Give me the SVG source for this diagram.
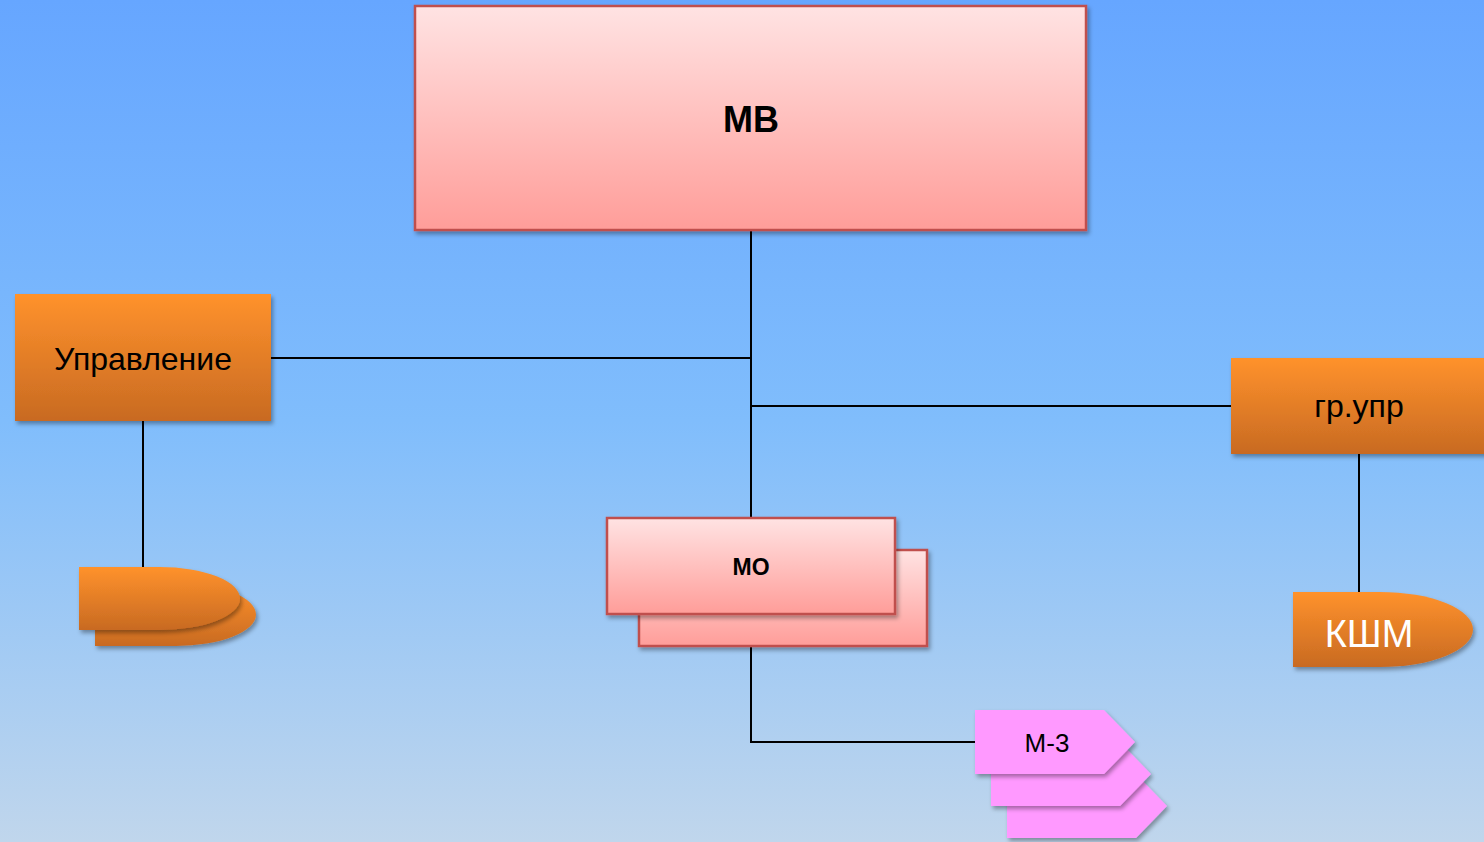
<svg xmlns="http://www.w3.org/2000/svg" width="1484" height="842" viewBox="0 0 1484 842">
<defs>
  <linearGradient id="bg" x1="0" y1="0" x2="0" y2="1">
    <stop offset="0" stop-color="#66a6ff"/>
    <stop offset="0.5" stop-color="#80bdfc"/>
    <stop offset="1" stop-color="#c0d6ec"/>
  </linearGradient>
  <linearGradient id="pink" x1="0" y1="0" x2="0" y2="1">
    <stop offset="0" stop-color="#ffe3e3"/>
    <stop offset="1" stop-color="#ff9d99"/>
  </linearGradient>
  <linearGradient id="orange" x1="0" y1="0" x2="0" y2="1">
    <stop offset="0" stop-color="#ff922c"/>
    <stop offset="1" stop-color="#c86a22"/>
  </linearGradient>
  <filter id="sh" x="-10%" y="-10%" width="130%" height="140%">
    <feDropShadow dx="2" dy="3" stdDeviation="2" flood-color="#000" flood-opacity="0.35"/>
  </filter>
</defs>
<style>
  .red { fill: url(#pink); stroke: #c0504d; stroke-width: 2.5; filter: url(#sh); }
  .org { fill: url(#orange); filter: url(#sh); }
  .mag { fill: #ff99ff; filter: url(#sh); }
  .ln { stroke: #000; stroke-width: 2; fill: none; }
  text { font-family: "Liberation Sans", Arial, sans-serif; text-anchor: middle; fill: #000; }
  .b { font-weight: bold; }
</style>
<rect x="0" y="0" width="1484" height="842" fill="url(#bg)"/>

<g id="connectors">
  <path class="ln" d="M751,230 V518"/>
  <path class="ln" d="M271,358 H751"/>
  <path class="ln" d="M751,406 H1231"/>
  <path class="ln" d="M143,421 V567"/>
  <path class="ln" d="M1359,454 V592"/>
  <path class="ln" d="M751,646 V742 H975"/>
</g>

<g id="node-mv">
  <rect class="red" x="415" y="6" width="671" height="224"/>
  <text class="b" x="751" y="132" font-size="36">МВ</text>
</g>

<g id="node-upravlenie">
  <rect class="org" x="15" y="294" width="256" height="127"/>
  <text x="143" y="370" font-size="32">Управление</text>
</g>

<g id="node-grupr">
  <rect class="org" x="1231" y="358" width="260" height="96"/>
  <text x="1359" y="417" font-size="32">гр.упр</text>
</g>

<g id="node-mo">
  <rect class="red" x="639" y="550" width="288" height="96"/>
  <rect class="red" x="607" y="518" width="288" height="96"/>
  <text class="b" x="751" y="575" font-size="23">МО</text>
</g>

<g id="node-left-delay">
  <path class="org" d="M95,583 H176 A80,31.5 0 0 1 176,646 H95 Z"/>
  <path class="org" d="M79,567 H160 A80,31.5 0 0 1 160,630 H79 Z"/>
</g>

<g id="node-kshm">
  <path class="org" d="M1293,592 H1380 A93,37.5 0 0 1 1380,667 H1293 Z"/>
  <text x="1369" y="647" font-size="38" style="fill:#fff">КШМ</text>
</g>

<g id="node-m3">
  <path class="mag" d="M1007,774 H1136 L1167,806 L1136,838 H1007 Z"/>
  <path class="mag" d="M991,742 H1120 L1151,774 L1120,806 H991 Z"/>
  <path class="mag" d="M975,710 H1104 L1135,742 L1104,774 H975 Z"/>
  <text x="1047" y="752" font-size="26">М-3</text>
</g>
</svg>
